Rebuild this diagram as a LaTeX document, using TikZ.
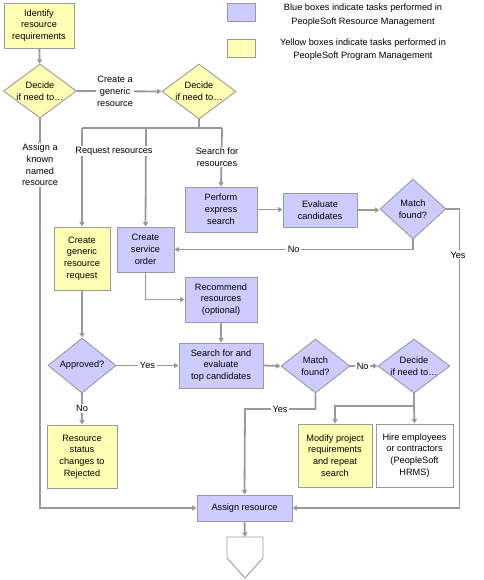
\documentclass[tikz,border=0pt]{standalone}
\usepackage{fontspec}
\setmainfont{Liberation Sans}
\usetikzlibrary{arrows.meta,shapes.geometric}
\definecolor{bluebox}{HTML}{CCCCFF}
\definecolor{yellowbox}{HTML}{FFFFB3}
\definecolor{edgegray}{HTML}{999999}
\begin{document}
\begin{tikzpicture}[x=1pt,y=-1pt,
  every node/.style={font=\fontsize{9.2}{11.8}\selectfont, inner sep=0pt, align=center},
  box/.style={draw=edgegray, line width=0.9pt, rectangle},
  bbox/.style={box, fill=bluebox},
  ybox/.style={box, fill=yellowbox},
  wbox/.style={box, fill=white},
  dia/.style={draw=edgegray, line width=0.9pt, diamond},
  bdia/.style={dia, fill=bluebox},
  ydia/.style={dia, fill=yellowbox},
  conn/.style={draw=edgegray, line width=1.8pt},
  arr/.style={conn, -{Triangle[length=4.5pt,width=5pt]}},
  lab/.style={fill=white, inner xsep=1.5pt, inner ysep=1pt}
]
\useasboundingbox (0,0) rectangle (483,580);

% legend
\node[bbox, minimum width=28, minimum height=18] (lgb) at (241,12) {};
\node[ybox, minimum width=28, minimum height=18] (lgy) at (241,48) {};
\node[font=\fontsize{9.2}{13.4}\selectfont] (lgbt) at (363,15) {Blue boxes indicate tasks performed in\\PeopleSoft Resource Management};
\node[font=\fontsize{9.2}{12.4}\selectfont] (lgyt) at (363,49.5) {Yellow boxes indicate tasks performed in\\PeopleSoft Program Management};

% nodes
\node[ybox, minimum width=70, minimum height=45] (id) at (39,25.5) {Identify\\resource\\requirements};
\node[ydia, minimum width=73, minimum height=54] (d1) at (40,91) {};
\node (d1t) at (40,91) {Decide\\if need to…};
\node[ydia, minimum width=74, minimum height=55] (d2) at (199,91.5) {};
\node (d2t) at (199,91.5) {Decide\\if need to…};

\node[bbox, minimum width=72, minimum height=45] (pe) at (221,209.5) {Perform\\express\\search};
\node[bbox, minimum width=74, minimum height=34] (ev) at (320,210) {Evaluate\\candidates};
\node[bdia, minimum width=66, minimum height=60] (m1) at (413,209) {};
\node (m1t) at (413,209) {Match\\found?};

\node[ybox, minimum width=56, minimum height=63] (cg) at (82,258.5) {Create\\generic\\resource\\request};
\node[bbox, minimum width=57, minimum height=45] (so) at (145.5,249.5) {Create\\service\\order};
\node[bbox, minimum width=72, minimum height=45] (rec) at (221,299.5) {Recommend\\resources\\(optional)};
\node[bbox, minimum width=84, minimum height=45] (se) at (221,365.5) {Search for and\\evaluate\\top candidates};

\node[bdia, minimum width=68, minimum height=55] (ap) at (82,365.5) {};
\node (apt) at (82,365.5) {Approved?};
\node[bdia, minimum width=69, minimum height=54] (m2) at (315.5,366) {};
\node (m2t) at (315.5,366) {Match\\found?};
\node[bdia, minimum width=72, minimum height=54] (d3) at (414,366) {};
\node (d3t) at (414,366) {Decide\\if need to…};

\node[ybox, minimum width=70, minimum height=63] (rs) at (82,456.5) {Resource\\status\\changes to\\Rejected};
\node[ybox, minimum width=74, minimum height=63] (mo) at (335,455.5) {Modify project\\requirements\\and repeat\\search};
\node[wbox, minimum width=77, minimum height=63] (hi) at (414.5,455.5) {Hire employees\\or contractors\\(PeopleSoft\\HRMS)};
\node[bbox, minimum width=95, minimum height=26] (as) at (244.5,508) {Assign resource};

% off-page connector
\draw[draw=edgegray, line width=0.9pt, fill=white] (227,537) -- (263,537) -- (263,558) -- (245,578) -- (227,558) -- cycle;
\coordinate (off) at (245,537);

% junction coordinates
\coordinate (j1) at (82,128);
\coordinate (j2) at (146,128);
\coordinate (j3) at (222,128);
\coordinate (j4) at (414,406);

% connectors
\draw[arr] (id) -- (d1);
\draw[arr] (d1.east) -- node[lab, pos=0.45] {Create a\\generic\\resource} (d2.west);
\draw[conn] (d2.south) -- (d2.south |- j1);
\draw[conn] (j1) -- (j3);
\draw[arr] (j1) -- (cg.north);
\draw[arr] (j2) -- (so.north);
\node[lab] (rqlab) at (114,151) {Request resources};
\draw[arr] (j3) -- (pe.north);
\node[lab] (sflab) at (217,157) {Search for\\resources};
\draw[arr] (pe.east) -- (pe.east -| ev.west);
\draw[arr] (ev.east) -- (ev.east -| m1.west);
\draw[arr] (m1.south) |- node[lab, pos=0.75] {No} (so.east);
\draw[arr] (m1.east) -- ++(13,0) |- (as.east);
\node[lab] (yes1) at (458,255) {Yes};
\draw[arr] (so.south) |- (rec.west);
\draw[arr] (rec) -- (se);
\draw[arr] (cg) -- (ap);
\draw[arr] (ap.east) -- node[lab, pos=0.5] {Yes} (se.west);
\draw[arr] (ap.south) -- node[lab, pos=0.48] {No} (rs.north);
\draw[arr] (se.east) -- (m2.west);
\draw[arr] (m2.east) -- node[lab, pos=0.45] {No} (d3.west);
\draw[arr] (m2.south) |- (245,409) -- (as.north);
\node[lab] (yes2) at (280,409) {Yes};
\draw[conn] (d3.south) -- (j4);
\draw[arr] (j4) -- (hi.north);
\draw[arr] (j4) -| (mo.north);
\draw[arr] (d1.south) |- (as.west);
\node[lab] (aklab) at (40,165) {Assign a\\known\\named\\resource};
\draw[arr] (as.south) -- (off);
\end{tikzpicture}
\end{document}
